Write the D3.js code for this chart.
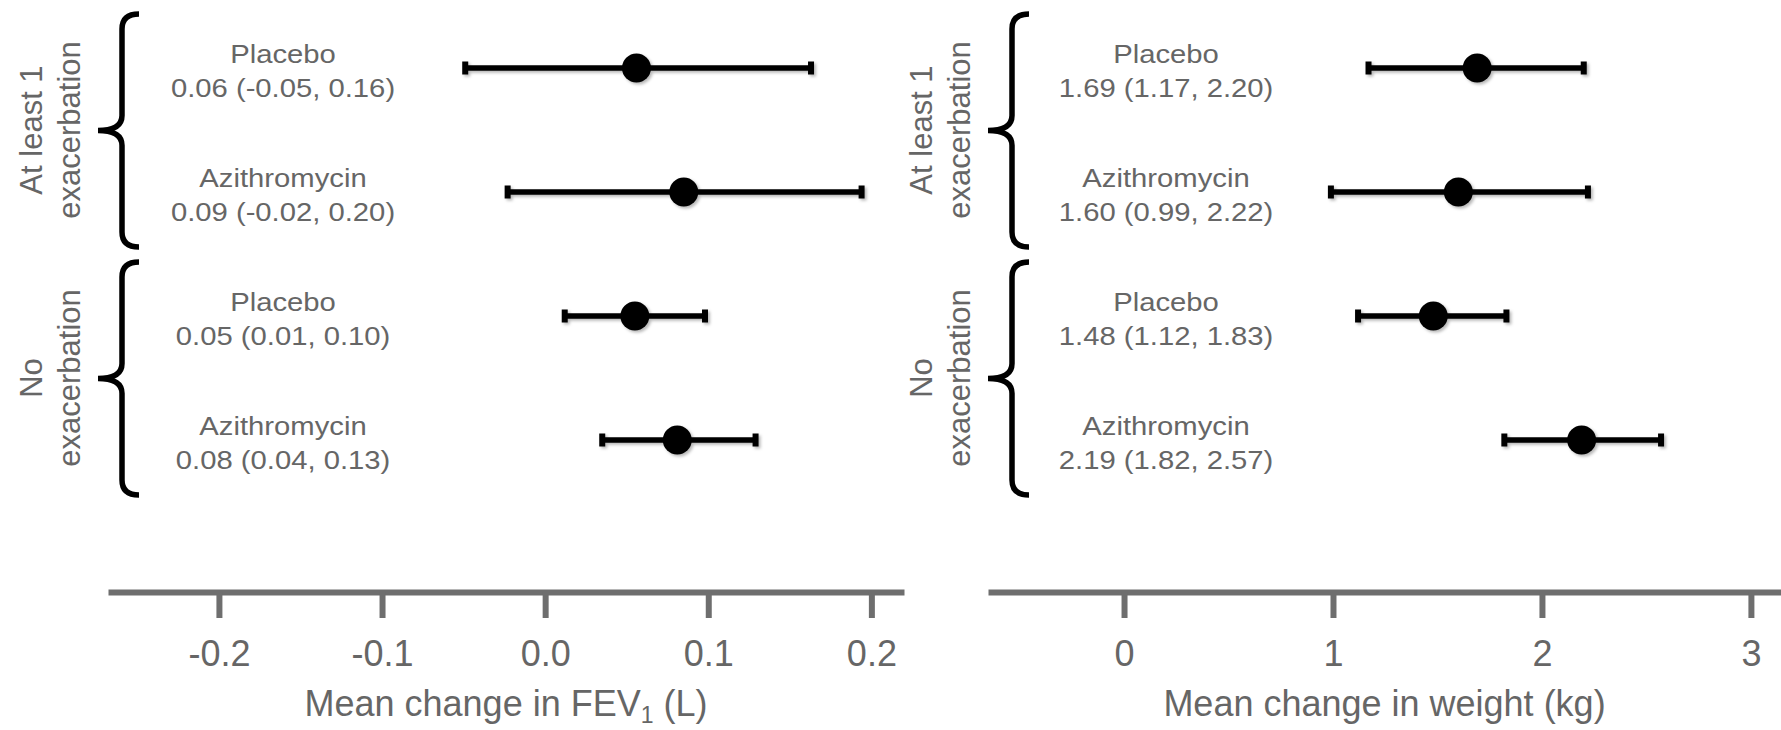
<!DOCTYPE html>
<html>
<head>
<meta charset="utf-8">
<script src="https://d3js.org/d3.v7.min.js"></script>
<style>
  body { margin: 0; background: #fff; }
  svg { display: block; font-family: "Liberation Sans", Arial, sans-serif; }
</style>
</head>
<body>
<div id="chart"></div>
<script>
// data
const groupLabels = [["At least 1", "exacerbation"], ["No", "exacerbation"]];
const arms = ["Placebo", "Azithromycin", "Placebo", "Azithromycin"];

const fevMean = [0.056, 0.085, 0.055, 0.081];
const fevLow = [-0.049, -0.023, 0.012, 0.035];
const fevHigh = [0.163, 0.194, 0.098, 0.129];
const fevText = ["0.06 (-0.05, 0.16)", "0.09 (-0.02, 0.20)", "0.05 (0.01, 0.10)", "0.08 (0.04, 0.13)"];
const fevTicks = [-0.2, -0.1, 0.0, 0.1, 0.2];

const wtMean = [1.69, 1.60, 1.48, 2.19];
const wtLow = [1.17, 0.99, 1.12, 1.82];
const wtHigh = [2.20, 2.22, 1.83, 2.57];
const wtText = ["1.69 (1.17, 2.20)", "1.60 (0.99, 2.22)", "1.48 (1.12, 1.83)", "2.19 (1.82, 2.57)"];
const wtTicks = [0, 1, 2, 3];

const W = 1781, H = 730;
const textGray = "#666";
const axisGray = "#6e6e6e";

const svg = d3.select("#chart").append("svg")
    .attr("width", W)
    .attr("height", H);

svg.append("rect").attr("width", W).attr("height", H).attr("fill", "#fff");

// soft shadow under the error bars
const defs = svg.append("defs");
defs.append("filter")
    .attr("id", "shadow")
    .attr("x", "-10%").attr("y", "-50%").attr("width", "120%").attr("height", "200%")
  .append("feDropShadow")
    .attr("dx", 2).attr("dy", 2)
    .attr("stdDeviation", 1.6)
    .attr("flood-color", "#000")
    .attr("flood-opacity", 0.28);

// rows share the same vertical positions in both panels
const y = d3.scalePoint().domain(d3.range(4)).range([68, 440]);

function brace(xv, xt, xe, y0, y1) {
  const ym = (y0 + y1) / 2, r = 15;
  return `M${xe},${y0} Q${xv},${y0} ${xv},${y0 + r} L${xv},${ym - r} Q${xv},${ym} ${xt},${ym}`
       + ` Q${xv},${ym} ${xv},${ym + r} L${xv},${y1 - r} Q${xv},${y1} ${xe},${y1}`;
}

function drawPanel(opt) {
  const g = svg.append("g").attr("transform", `translate(${opt.dx},0)`);

  const x = d3.scaleLinear().domain(opt.domain).range(opt.range);

  // group labels and braces
  groupLabels.forEach((lines, gi) => {
    const yTop = y(gi * 2), yBot = y(gi * 2 + 1);
    const ym = (yTop + yBot) / 2;
    g.append("path")
        .attr("d", brace(122, 98, 139, yTop - 54, yBot + 55))
        .attr("fill", "none")
        .attr("stroke", "#000")
        .attr("stroke-width", 5.5);
    lines.forEach((t, li) => {
      g.append("text")
          .attr("transform", `translate(${42 + li * 38},${ym}) rotate(-90)`)
          .attr("text-anchor", "middle")
          .attr("font-size", 31)
          .attr("fill", textGray)
          .text(t);
    });
  });

  // arm names and estimates (text is a bit wide in the original)
  arms.forEach((a, i) => {
    const tg = svg.append("g")
        .attr("transform", `translate(${opt.labelX},${y(i)}) scale(1.17,1)`)
        .attr("fill", textGray)
        .attr("font-size", 25)
        .attr("text-anchor", "middle");
    tg.append("text").attr("y", -5).text(a);
    tg.append("text").attr("y", 29).text(opt.text[i]);
  });

  // error bars
  const bars = svg.append("g").attr("filter", "url(#shadow)");
  const rows = bars.selectAll("g.row")
    .data(d3.range(4))
    .join("g")
      .attr("class", "row");

  rows.append("line")
      .attr("x1", i => x(opt.low[i]))
      .attr("x2", i => x(opt.high[i]))
      .attr("y1", i => y(i))
      .attr("y2", i => y(i))
      .attr("stroke", "#000")
      .attr("stroke-width", 5.5);

  rows.selectAll("rect.cap")
    .data(i => [opt.low[i], opt.high[i]].map(v => ({ v, i })))
    .join("rect")
      .attr("class", "cap")
      .attr("x", d => x(d.v) - 3)
      .attr("y", d => y(d.i) - 6.5)
      .attr("width", 6)
      .attr("height", 13)
      .attr("fill", "#000");

  rows.append("circle")
      .attr("cx", i => x(opt.mean[i]))
      .attr("cy", i => y(i))
      .attr("r", 14.5)
      .attr("fill", "#000");

  // x axis
  const ax = svg.append("g")
      .attr("transform", "translate(0,592)")
      .call(d3.axisBottom(x)
        .tickValues(opt.ticks)
        .tickSize(26)
        .tickSizeOuter(0)
        .tickPadding(22)
        .tickFormat(opt.fmt));
  ax.select(".domain").attr("stroke", axisGray).attr("stroke-width", 6);
  ax.selectAll(".tick line").attr("stroke", axisGray).attr("stroke-width", 6);
  ax.selectAll(".tick text")
      .attr("fill", textGray)
      .attr("font-size", 36)
      .attr("font-family", "Liberation Sans, Arial, sans-serif");

  // axis title
  const title = svg.append("text")
      .attr("x", (opt.range[0] + opt.range[1]) / 2)
      .attr("y", 716)
      .attr("text-anchor", "middle")
      .attr("font-size", 36)
      .attr("fill", textGray);
  opt.title(title);
}

// left panel: FEV1
drawPanel({
  dx: 0,
  domain: [-0.268, 0.220],
  range: [108, 904],
  labelX: 283,
  mean: fevMean, low: fevLow, high: fevHigh, text: fevText,
  ticks: fevTicks,
  fmt: d => d.toFixed(1),
  title: t => {
    t.append("tspan").text("Mean change in FEV");
    t.append("tspan").attr("font-size", 23).attr("dy", 7).text("1");
    t.append("tspan").attr("dy", -7).text(" (L)");
  }
});

// right panel: weight
drawPanel({
  dx: 890,
  domain: [-0.651, 3.144],
  range: [988, 1781],
  labelX: 1166,
  mean: wtMean, low: wtLow, high: wtHigh, text: wtText,
  ticks: wtTicks,
  fmt: d => String(d),
  title: t => t.text("Mean change in weight (kg)")
});
</script>
</body>
</html>
